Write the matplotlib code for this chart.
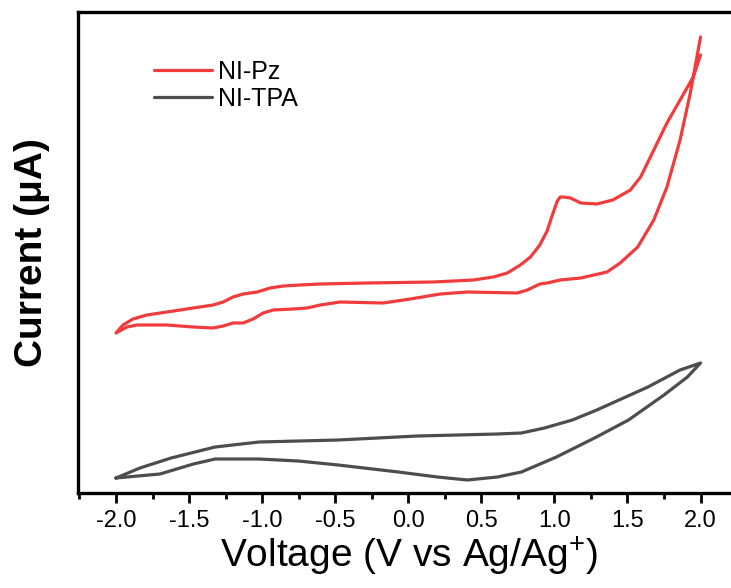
import numpy as np
import matplotlib
matplotlib.use('Agg')
import matplotlib.pyplot as plt

plt.rcParams['font.family'] = ['Liberation Sans', 'DejaVu Sans']
plt.rcParams['mathtext.fontset'] = 'custom'
plt.rcParams['mathtext.rm'] = 'Liberation Sans'
plt.rcParams['axes.unicode_minus'] = False

# NI-Pz: one continuous trace, from the 2.0 V end down the lower branch,
# then back along the upper branch (with the oxidation peak) to 2.0 V
pz_v = [2.00, 1.98, 1.93, 1.86, 1.77, 1.68, 1.57, 1.45, 1.36, 1.27, 1.18, 1.04,
        0.95, 0.90, 0.815, 0.747, 0.404, 0.219, 0.014, -0.171, -0.466, -0.603,
        -0.692, -0.788, -0.925, -0.993, -1.062, -1.130, -1.199, -1.267, -1.336,
        -1.473, -1.651, -1.856, -1.925, -2.00,
        -1.952, -1.884, -1.788, -1.651, -1.473, -1.336, -1.267, -1.199, -1.130,
        -1.034, -0.945, -0.856, -0.740, -0.603, -0.281, 0.171, 0.445, 0.582,
        0.678, 0.767, 0.836, 0.90, 0.95, 0.986, 1.02, 1.04, 1.06, 1.11, 1.18,
        1.29, 1.40, 1.52, 1.59, 1.68, 1.77, 1.86, 1.95, 2.00]
pz_i = [45.6, 44.0, 40.0, 35.3, 30.6, 27.3, 24.6, 23.0, 22.1, 21.8, 21.5, 21.3,
        21.0, 20.9, 20.3, 20.0, 20.1, 19.9, 19.4, 19.0, 19.1, 18.8,
        18.5, 18.4, 18.3, 18.0, 17.4, 17.0, 17.0, 16.7, 16.5,
        16.6, 16.8, 16.8, 16.6, 16.0,
        16.8, 17.4, 17.8, 18.1, 18.5, 18.8, 19.1, 19.6, 19.9,
        20.1, 20.5, 20.7, 20.8, 20.9, 21.0, 21.1, 21.3, 21.6,
        22.0, 22.8, 23.6, 24.8, 26.2, 27.8, 29.2, 29.6, 29.6, 29.5, 29.0,
        28.9, 29.3, 30.3, 31.6, 34.3, 37.0, 39.3, 41.6, 43.8]

# NI-TPA: closed loop, upper branch forward then lower branch back
tpa_v = [-2.00, -1.836, -1.623, -1.322, -1.021, -0.479, 0.062, 0.610, 0.774,
         0.932, 1.123, 1.29, 1.64, 1.86, 2.00,
         1.91, 1.75, 1.507, 1.288, 1.014, 0.774, 0.610, 0.404, 0.199, -0.068,
         -0.479, -0.753, -1.021, -1.322, -1.47, -1.699, -2.00]
tpa_i = [1.5, 2.5, 3.5, 4.6, 5.1, 5.3, 5.7, 5.9, 6.0,
         6.5, 7.3, 8.3, 10.6, 12.3, 13.0,
         11.6, 9.8, 7.3, 5.6, 3.6, 2.1, 1.6, 1.3, 1.6, 2.1,
         2.8, 3.2, 3.4, 3.4, 2.9, 1.9, 1.5]

fig = plt.figure(figsize=(7.31, 5.88), dpi=100)
ax = fig.add_axes([78/731, 1 - 493/588, (740 - 78)/731, (493 - 12)/588])

ax.plot(pz_v, pz_i, color='#F03C3C', lw=2.3, label='NI-Pz',
        solid_joinstyle='round', solid_capstyle='round')
ax.plot(tpa_v, tpa_i, color='#4D4D4D', lw=2.3, label='NI-TPA',
        solid_joinstyle='round', solid_capstyle='round')

ax.set_xlim(-2.26, 2.27)
ax.set_ylim(0, 48.1)
ax.set_xticks([-2.0, -1.5, -1.0, -0.5, 0.0, 0.5, 1.0, 1.5, 2.0])
ax.set_xticklabels(['-2.0', '-1.5', '-1.0', '-0.5', '0.0', '0.5', '1.0', '1.5', '2.0'])
ax.set_xticks(np.arange(-2.25, 2.3, 0.5), minor=True)
ax.set_yticks([])
ax.tick_params(axis='x', which='major', direction='out', length=7, width=2, labelsize=17, pad=5)
ax.tick_params(axis='x', which='minor', direction='out', length=4, width=2)
for s in ax.spines.values():
    s.set_linewidth(2.4)

ax.set_xlabel('Voltage (V vs Ag/Ag$^{+}$)', fontsize=28, labelpad=2)
ax.set_ylabel('Current (\u03bcA)', fontsize=28, fontweight='bold', labelpad=20)

ax.legend(loc='upper left', bbox_to_anchor=(0.115, 0.9), frameon=False, fontsize=18,
          handlelength=2.3, handletextpad=0.25, labelspacing=0.1,
          borderaxespad=0, borderpad=0)

fig.savefig('out.png', dpi=100)
